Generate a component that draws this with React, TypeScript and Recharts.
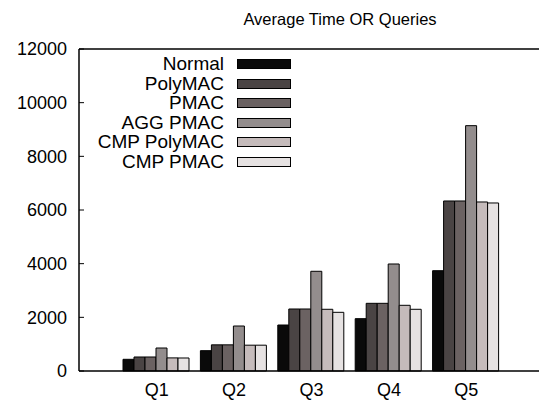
import React from "react";
import { BarChart, Bar, XAxis, YAxis, ReferenceLine } from "recharts";

const categories = ["Q1", "Q2", "Q3", "Q4", "Q5"];
const seriesNames = ["Normal", "PolyMAC", "PMAC", "AGG PMAC", "CMP PolyMAC", "CMP PMAC"];
const normal = [436, 757, 1714, 1950, 3738];
const polyMAC = [522, 975, 2311, 2522, 6336];
const pmac = [522, 975, 2311, 2522, 6336];
const aggPmac = [857, 1677, 3716, 3988, 9143];
const cmpPolyMAC = [488, 962, 2300, 2448, 6299];
const cmpPmac = [485, 962, 2187, 2300, 6262];
const yTicks = [0, 2000, 4000, 6000, 8000, 10000, 12000];

const colors = ["#0a0a0a", "#4a4444", "#6b6262", "#938d8d", "#c5bbbb", "#e6e2e2"];
const keys = ["normal", "polyMAC", "pmac", "aggPmac", "cmpPolyMAC", "cmpPmac"];
const seriesValues = [normal, polyMAC, pmac, aggPmac, cmpPolyMAC, cmpPmac];

const data = categories.map((c, i) => {
  const row: Record<string, any> = { name: c };
  keys.forEach((k, j) => {
    row[k] = seriesValues[j][i];
  });
  return row;
});

const FONT = "'Liberation Sans', Arial, Helvetica, sans-serif";

const YTick = (props: any) => {
  const { x, y, payload } = props;
  return (
    <g>
      <line x1={x} x2={x + 5} y1={y} y2={y} stroke="#000" strokeWidth={1} />
      <text x={x - 12} y={y} dy="0.36em" textAnchor="end" fontFamily={FONT} fontSize={18} fill="#000">
        {payload.value}
      </text>
    </g>
  );
};

const XTick = (props: any) => {
  const { x, y, payload } = props;
  return (
    <text x={x} y={y} dy="0.71em" textAnchor="middle" fontFamily={FONT} fontSize={18} fill="#000">
      {payload.value}
    </text>
  );
};

export default function App() {
  return (
    <div style={{ position: "absolute", left: 0, top: 0, width: 539, height: 402, background: "#fff", overflow: "hidden" }}>
      <div
        style={{
          position: "absolute",
          left: 340,
          top: 10,
          transform: "translateX(-50%)",
          whiteSpace: "nowrap",
          fontFamily: FONT,
          fontSize: 16.5,
          color: "#000",
          lineHeight: "18px",
        }}
      >
        Average Time OR Queries
      </div>
      <BarChart
        width={539}
        height={402}
        data={data}
        margin={{ top: 49, right: 0, bottom: 0, left: 0 }}
        barGap={0}
        barCategoryGap={5}
      >
        <XAxis
          dataKey="name"
          padding={{ left: 39, right: 34 }}
          tickLine={false}
          axisLine={{ stroke: "#000", strokeWidth: 1.5 }}
          height={31}
          tickSize={0}
          tickMargin={12}
          tick={<XTick />}
          interval={0}
        />
        <YAxis
          domain={[0, 12000]}
          ticks={yTicks}
          width={79}
          tickLine={false}
          tickSize={0}
          tickMargin={0}
          axisLine={{ stroke: "#000", strokeWidth: 1.5 }}
          tick={<YTick />}
          interval={0}
        />
        <ReferenceLine y={12000} stroke="#000" strokeWidth={1.5} />
        {keys.map((k, j) => (
          <Bar
            key={k}
            dataKey={k}
            name={seriesNames[j]}
            fill={colors[j]}
            stroke="#000"
            strokeWidth={1}
            isAnimationActive={false}
          />
        ))}
      </BarChart>
      {seriesNames.map((n, j) => (
        <div
          key={n}
          style={{
            position: "absolute",
            left: 80,
            top: 54 + j * 19.5,
            width: 212,
            height: 20,
            display: "flex",
            alignItems: "center",
          }}
        >
          <div
            style={{
              width: 144,
              textAlign: "right",
              fontFamily: FONT,
              fontSize: 19,
              lineHeight: "20px",
              color: "#000",
              whiteSpace: "nowrap",
            }}
          >
            {n}
          </div>
          <div
            style={{
              marginLeft: 13,
              width: 52,
              height: 8,
              background: colors[j],
              border: "1px solid #000",
            }}
          />
        </div>
      ))}
    </div>
  );
}
